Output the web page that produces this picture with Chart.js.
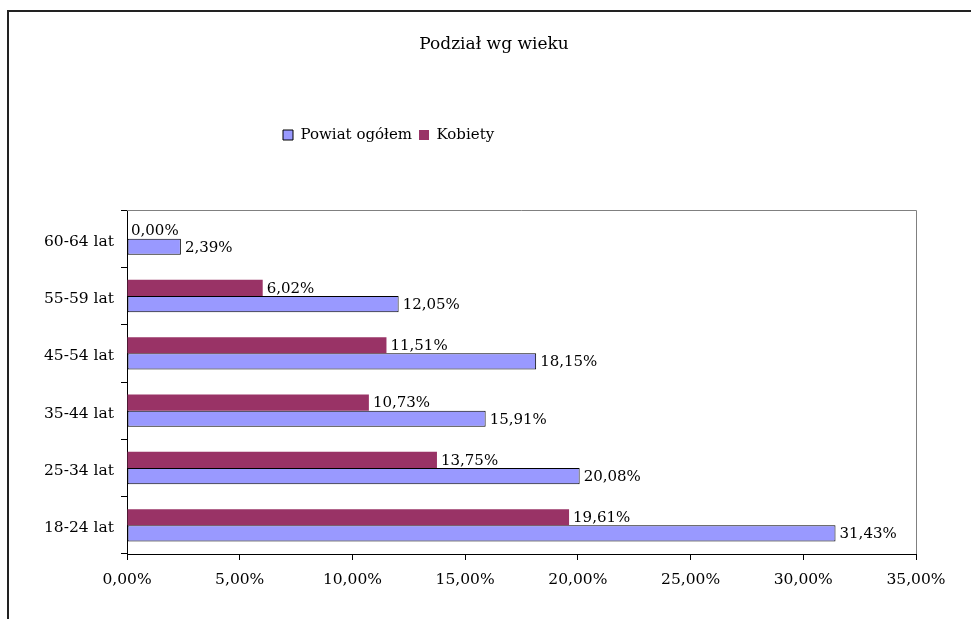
<!DOCTYPE html>
<html>
<head>
<meta charset="utf-8">
<script src="https://cdn.jsdelivr.net/npm/chart.js@4/dist/chart.umd.min.js"></script>
<style>
  html, body { margin: 0; padding: 0; background: #fff; overflow: hidden; }
  #frame { position: absolute; left: 7px; top: 10px; width: 1200px; height: 900px;
           border-left: 2px solid #222; border-top: 2px solid #222; }
  #wrap { position: absolute; left: 0; top: 0; width: 971px; height: 619px; }
</style>
</head>
<body>
<div id="frame"></div>
<div id="wrap"><canvas id="c" width="971" height="619"></canvas></div>
<script>
// ---- data (top-to-bottom order as shown) ----
const categories = ['60-64 lat', '55-59 lat', '45-54 lat', '35-44 lat', '25-34 lat', '18-24 lat'];
const kobiety    = [0.00, 6.02, 11.51, 10.73, 13.75, 19.61];
const powiat     = [2.39, 12.05, 18.15, 15.91, 20.08, 31.43];
const seriesNames = ['Powiat ogółem', 'Kobiety'];
const chartTitle = 'Podział wg wieku';
const xTicks = [0, 5, 10, 15, 20, 25, 30, 35];

const FONT = 'DejaVu Serif';
const fmt = v => v.toFixed(2).replace('.', ',') + '%';

const valueLabels = {
  id: 'valueLabels',
  afterDatasetsDraw(chart) {
    const ctx = chart.ctx;
    ctx.save();
    ctx.font = '15px "' + FONT + '"';
    ctx.fillStyle = '#000';
    ctx.textAlign = 'left';
    ctx.textBaseline = 'middle';
    chart.data.datasets.forEach((ds, di) => {
      const meta = chart.getDatasetMeta(di);
      meta.data.forEach((el, i) => {
        ctx.fillText(fmt(ds.data[i]), el.x + 4, el.y + 1);
      });
    });
    ctx.restore();
  }
};

const plotFrame = {
  id: 'plotFrame',
  beforeDatasetsDraw(chart) {
    const a = chart.chartArea, ctx = chart.ctx;
    ctx.save();
    ctx.strokeStyle = '#808080';
    ctx.lineWidth = 1;
    ctx.beginPath();
    ctx.moveTo(a.left, a.top + 0.5);
    ctx.lineTo(a.right + 0.5, a.top + 0.5);
    ctx.lineTo(a.right + 0.5, a.bottom);
    ctx.stroke();
    ctx.restore();
  }
};

const boxMove = {
  id: 'boxMove',
  afterLayout(chart) {
    const lg = chart.legend;
    if (lg) {
      const h = lg.bottom - lg.top;
      const w = lg.right - lg.left;
      lg.left = 276; lg.right = lg.left + w;
      lg.top = 120.5; lg.bottom = lg.top + h;
    }
    const tb = chart.titleBlock;
    if (tb) {
      const w = tb.right - tb.left;
      tb.left = 494 - w / 2; tb.right = tb.left + w;
    }
  }
};

new Chart(document.getElementById('c'), {
  type: 'bar',
  data: {
    labels: categories,
    datasets: [
      { label: seriesNames[1], data: kobiety, backgroundColor: '#993366', borderWidth: 0,
        barPercentage: 1, categoryPercentage: 0.565 },
      { label: seriesNames[0], data: powiat, backgroundColor: '#9999FF', borderColor: '#000',
        borderWidth: 1, borderSkipped: false, barPercentage: 1, categoryPercentage: 0.565 }
    ]
  },
  options: {
    indexAxis: 'y',
    responsive: false,
    animation: false,
    layout: { padding: { left: 0, right: 55, top: 0, bottom: 0 } },
    plugins: {
      title: {
        display: true, text: chartTitle, color: '#000',
        font: { family: FONT, size: 17, weight: 'normal' },
        padding: { top: 34.8, bottom: 122.8 }
      },
      legend: {
        display: true, position: 'top', align: 'start', reverse: true,
        labels: {
          color: '#000', boxWidth: 10, boxHeight: 10, padding: 7,
          font: { family: FONT, size: 15 }
        }
      },
      tooltip: { enabled: false }
    },
    scales: {
      x: {
        type: 'linear', min: 0, max: 35,
        afterBuildTicks(s) { s.ticks = xTicks.map(v => ({ value: v })); },
        afterFit(s) { s.height = 65; s.paddingLeft = 0; s.paddingRight = 0; },
        grid: { display: true, drawOnChartArea: false, drawTicks: true, tickLength: 6, color: '#000' },
        border: { display: true, color: '#000', width: 1 },
        ticks: { color: '#000', padding: 11, maxRotation: 0, autoSkip: false,
                 font: { family: FONT, size: 15.5 }, callback: v => fmt(v) }
      },
      y: {
        afterFit(s) { s.width = 127; },
        grid: { display: true, offset: true, drawOnChartArea: false, drawTicks: true, tickLength: 6, color: '#000' },
        border: { display: true, color: '#000', width: 1 },
        ticks: { color: '#000', padding: 7, labelOffset: 3, font: { family: FONT, size: 15.5 } }
      }
    }
  },
  plugins: [valueLabels, plotFrame, boxMove]
});
</script>
</body>
</html>
